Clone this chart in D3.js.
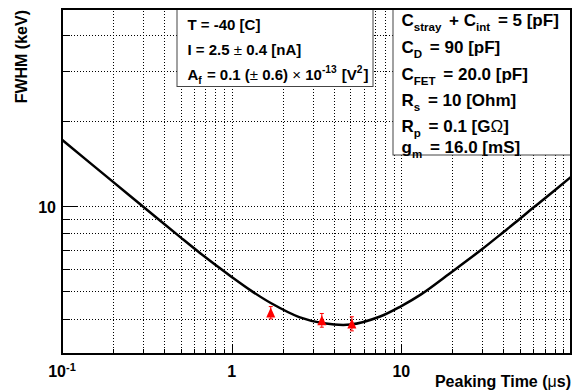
<!DOCTYPE html>
<html>
<head>
<meta charset="utf-8">
<script src="https://cdn.jsdelivr.net/npm/d3@7"></script>
<style>
body { margin: 0; background: #fff; }
svg { display: block; }
text { font-family: "Liberation Sans", Arial, Helvetica, sans-serif; font-weight: bold; white-space: pre; }
</style>
</head>
<body>
<script>
// fitted noise curve
var peakTimes = [0.1, 0.2, 0.3, 0.5, 0.65, 0.85, 1.0, 1.3, 1.7, 2.5, 3.5, 5.0, 7.5, 10, 13, 20, 30, 40, 50, 60, 70, 100];
var fwhmFit   = [17.1, 12.15, 9.95, 7.74, 6.82, 6.03, 5.61, 5.02, 4.54, 4.05, 3.85, 3.81, 4.07, 4.43, 4.86, 5.87, 7.04, 8.08, 9.0, 9.86, 10.61, 12.65];
// measured points
var measTimes = [1.70, 3.40, 5.11];
var measFwhm  = [4.20, 3.95, 3.84];
var measErr   = [0.21, 0.22, 0.22];
// axes
var xMajorTicks = [0.1, 1, 10, 100];
var xMinorTicks = [0.2, 0.3, 0.4, 0.5, 0.6, 0.7, 0.8, 0.9, 2, 3, 4, 5, 6, 7, 8, 9, 20, 30, 40, 50, 60, 70, 80, 90];
var xTickLabels = [["10", "-1"], ["1", ""], ["10", ""]];
var yMajorTicks = [10];
var yMinorTicks = [4, 5, 6, 7, 8, 9, 20, 30, 40];
var paramLines = [
  [["T = -40 [C]"]],
  [["I = 2.5 "], ["±", "sym"], [" 0.4 [nA]"]],
  [["A"], ["f", "sub"], [" = 0.1 ("], ["±", "sym"], [" 0.6) "], ["×", "sym"], [" 10"], ["-13", "sup"], [" [V"], ["2", "sup"], ["]"]]
];
var circuitLines = [
  [["C"], ["stray", "sub"], [" + C"], ["int", "sub"], [" = 5 [pF]"]],
  [["C"], ["D", "sub"], [" = 90 [pF]"]],
  [["C"], ["FET", "sub"], [" = 20.0 [pF]"]],
  [["R"], ["s", "sub"], [" = 10 [Ohm]"]],
  [["R"], ["p", "sub"], [" = 0.1 [G"], ["Ω", "sym"], ["]"]],
  [["g"], ["m", "sub"], [" = 16.0 [mS]"]]
];

var width = 575, height = 392;
var plotL = 62, plotR = 571, plotT = 9, plotB = 354;

var svg = d3.select("body").append("svg")
  .attr("width", width)
  .attr("height", height);

var x = d3.scaleLog().domain([0.1, 100]).range([plotL, plotR]);
var y = d3.scaleLog().domain([3, 49.5]).range([plotB, plotT]);

// grid
var grid = svg.append("g");
grid.append("g").attr("transform", "translate(0," + plotB + ")")
  .call(d3.axisBottom(x).tickValues(xMinorTicks.concat([1, 10])).tickSize(-(plotB - plotT)).tickFormat(""));
grid.append("g").attr("transform", "translate(" + plotL + ",0)")
  .call(d3.axisLeft(y).tickValues(yMinorTicks.concat(yMajorTicks)).tickSize(-(plotR - plotL)).tickFormat(""));
grid.selectAll(".domain").remove();
grid.selectAll("line").attr("stroke", "#000").attr("stroke-dasharray", "1,2").attr("shape-rendering", "crispEdges");

// ticks (pointing inwards)
function ticks(axis, vals, size, tr) {
  var g = svg.append("g").attr("transform", tr).call(axis.tickValues(vals).tickSize(-size).tickFormat(""));
  g.select(".domain").remove();
  g.selectAll("line").attr("stroke", "#000").attr("shape-rendering", "crispEdges");
}
ticks(d3.axisBottom(x), xMinorTicks, 5, "translate(0," + plotB + ")");
ticks(d3.axisBottom(x), xMajorTicks, 10, "translate(0," + plotB + ")");
ticks(d3.axisLeft(y), yMinorTicks, 8, "translate(" + plotL + ",0)");
ticks(d3.axisLeft(y), yMajorTicks, 16, "translate(" + plotL + ",0)");

function richText(g, px, py, segs, size, gap) {
  var t = g.append("text").attr("x", px).attr("y", py).attr("font-size", size).attr("fill", "#000");
  var shift = 0, prev = "n";
  segs.forEach(function(s) {
    var kind = s[1] || "n";
    var target = kind === "sub" ? size * 0.3 : kind === "sup" ? -size * 0.42 : 0;
    var ts = t.append("tspan").attr("dy", target - shift).text(s[0]);
    if ((prev === "sub" || prev === "sup") && gap) ts.attr("dx", gap);
    shift = target;
    prev = kind;
    if (kind === "sub" || kind === "sup") ts.attr("font-size", size * 0.68);
    if (kind === "sym") ts.attr("font-weight", "normal");
  });
  return t;
}

// curve
var line = d3.line()
  .x(function(d, i) { return x(peakTimes[i]); })
  .y(function(d) { return y(d); })
  .curve(d3.curveCatmullRom.alpha(0.5));
svg.append("path")
  .datum(fwhmFit)
  .attr("d", line)
  .attr("fill", "none")
  .attr("stroke", "#000")
  .attr("stroke-width", 2.5);

// measured points with error bars
var pts = svg.append("g");
measTimes.forEach(function(t, i) {
  var cx = x(t), yt = y(measFwhm[i] + measErr[i]), yb = y(measFwhm[i] - measErr[i]), cy = y(measFwhm[i]);
  pts.append("line").attr("x1", cx).attr("x2", cx).attr("y1", yt).attr("y2", yb).attr("stroke", "#f00");
  pts.append("line").attr("x1", cx - 2).attr("x2", cx + 2).attr("y1", yt).attr("y2", yt).attr("stroke", "#f00");
  pts.append("line").attr("x1", cx - 2).attr("x2", cx + 2).attr("y1", yb).attr("y2", yb).attr("stroke", "#f00");
  pts.append("path")
    .attr("d", "M" + (cx - 4.5) + "," + (cy + 5) + "L" + (cx + 4.5) + "," + (cy + 5) + "L" + cx + "," + (cy - 5) + "Z")
    .attr("fill", "#f00");
});

// legend boxes
var box1 = svg.append("g");
box1.append("rect").attr("x", 177).attr("y", 9.5).attr("width", 196).attr("height", 77)
  .attr("fill", "#fff").attr("stroke", "#444");
paramLines.forEach(function(l, i) { richText(box1, 187.5, 29.5 + i * 25, l, 15, 1); });

var box2 = svg.append("g");
box2.append("rect").attr("x", 393).attr("y", 9.5).attr("width", 178).attr("height", 145.5)
  .attr("fill", "#fff").attr("stroke", "#444");
var circuitY = [25.5, 53, 80, 106, 131.5, 152.5];
circuitLines.forEach(function(l, i) { richText(box2, 401.5, circuitY[i], l, 17, 3); });

// frame
svg.append("rect").attr("x", plotL).attr("y", plotT).attr("width", plotR - plotL).attr("height", plotB - plotT)
  .attr("fill", "none").attr("stroke", "#000").attr("stroke-width", 2);

// tick labels
svg.append("text").attr("x", plotL - 6).attr("y", y(10) + 7).attr("text-anchor", "end")
  .attr("font-size", 16).text("10");
xTickLabels.forEach(function(lb, i) {
  var t = svg.append("text").attr("x", x(xMajorTicks[i])).attr("y", plotB + 22.5)
    .attr("text-anchor", "middle").attr("font-size", 16);
  t.append("tspan").text(lb[0]);
  if (lb[1]) t.append("tspan").attr("dy", -6).attr("font-size", 11).text(lb[1]);
});

// axis titles
svg.append("text").attr("transform", "translate(27,10) rotate(-90)")
  .attr("text-anchor", "end").attr("font-size", 16).text("FWHM (keV)");
var xt = svg.append("text").attr("x", plotR).attr("y", 387).attr("text-anchor", "end").attr("font-size", 16);
xt.append("tspan").text("Peaking Time (");
xt.append("tspan").attr("font-weight", "normal").text("μ");
xt.append("tspan").text("s)");
</script>
</body>
</html>
